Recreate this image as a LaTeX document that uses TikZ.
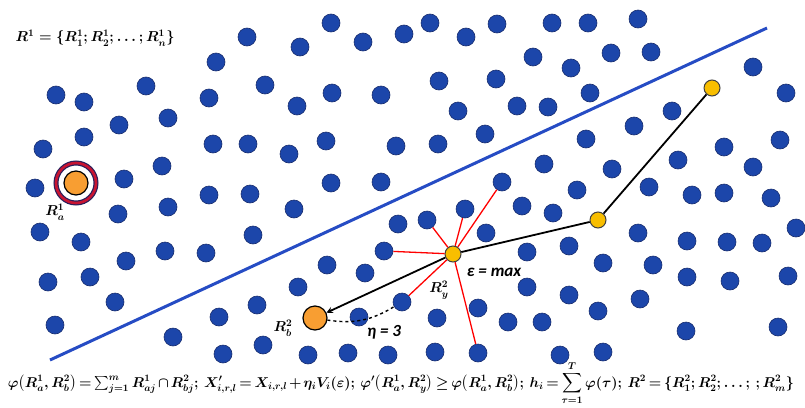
\documentclass[tikz,border=0pt]{standalone}
\usepackage{amsmath,amssymb}
\usepackage{graphicx}
\usepackage{fontspec}
\newfontfamily\calib{Carlito}
\usetikzlibrary{arrows,positioning}
\definecolor{dotblue}{RGB}{28,70,170}
\definecolor{dotedge}{RGB}{25,45,110}
\definecolor{lineblue}{RGB}{38,76,196}
\definecolor{goldfill}{RGB}{248,190,0}
\definecolor{orangefill}{RGB}{248,158,50}
\definecolor{ringred}{RGB}{200,20,50}
\definecolor{ringnavy}{RGB}{40,30,90}

\begin{document}
\begin{tikzpicture}[x=1pt,y=-1pt,>=stealth,
    dot/.style={circle,fill=dotblue,draw=dotedge,line width=0.6pt,minimum size=18pt,inner sep=0pt},
    gold/.style={circle,fill=goldfill,draw=darkgray,line width=1pt,minimum size=16pt,inner sep=0pt},
    orng/.style={circle,fill=orangefill,draw=black,line width=1.2pt,minimum size=24pt,inner sep=0pt},
    lbl/.style={font=\fontsize{14}{16}\selectfont\boldmath},
    ctext/.style={font=\fontsize{17}{20}\selectfont\calib\bfseries\itshape}]
    \useasboundingbox (0,0) rectangle (805,407);
    % Separator
    \draw[lineblue,line width=3pt] (50,360) -- (767,28);
    % Points of R^1
    \foreach \x/\y in {247/37,216/62,265/85,146/86,209/98,56/95,84/102,168/118,119/125,84/137,
        43/149,213/144,248/144,162/166,124/179,35/188,209/195,250/194,168/207,118/214,
        40/232,81/242,126/261,165/251,206/253,253/235,48/282,90/277,115/302,55/325,
        331/23,300/47,363/42,404/34,430/23,466/37,497/24,533/57,332/93,297/106,
        381/95,439/81,496/79,458/111,517/106,289/154,326/141,396/146,438/144,485/134,
        331/183,381/182,294/209,552/23,588/23,638/19,571/68,611/53,651/52,590/93,548/107}
        \node[dot] at (\x,\y) {};
    % Points of R^2
    \foreach \x/\y in {173/337,219/317,257/305,223/354,263/345,398/224,486/233,327/265,365/273,298/287,
        437/318,478/308,508/322,359/317,308/355,348/353,388/355,435/352,527/252,527/287,522/206,
        672/111,634/126,586/139,544/164,612/169,678/160,724/147,780/140,753/167,753/67,786/93,
        577/190,649/187,692/195,724/193,771/198,553/213,638/233,569/246,687/241,727/242,762/243,
        796/228,603/263,653/265,687/277,730/281,788/276,569/295,598/311,640/299,542/322,686/331,
        778/327,560/355,603/352}
        \node[dot] at (\x,\y) {};
    % Neighbours of R_y^2
    \foreach \x/\y [count=\i] in {384/251,427/220,465/209,502/182,402/302,478/353}
        \node[dot] (n\i) at (\x,\y) {};
    % Special points
    \node[orng] (Ra) at (76,183) {};
    \draw[ringnavy,line width=5pt] (Ra.center) circle (20);
    \draw[ringred,line width=2.6pt] (Ra.center) circle (20);
    \node[orng] (Rb) at (315,318) {};
    \node[gold] (Ry) at (453,254) {};
    \node[gold] (g1) at (598,220) {};
    \node[gold] (g2) at (712,88) {};
    % Search paths
    \foreach \i in {1,...,6}
        \draw[red,line width=1.3pt] (Ry) -- (n\i);
    \draw[->,line width=1.8pt] (Ry) -- (Rb);
    \draw[line width=1.8pt] (Ry) -- (g1) -- (g2);
    \draw[dashed,line width=1.4pt] (Rb) to[bend right=20] (n5);
    % Labels
    \node[lbl] (la) at (55,212) {$R^1_a$};
    \node[lbl] (lb) at (283,328) {$R^2_b$};
    \node[lbl] (ly) at (439,290) {$R^2_y$};
    \node[ctext] (eps) at (494,272) {ε = max};
    \node[ctext] (eta) at (384,332) {η = 3};
    \node[lbl,anchor=west] (set1) at (12,38) {$R^1 = \{R^1_1; R^1_2; \dots; R^1_n\}$};
    \node[font=\fontsize{14}{16}\selectfont\boldmath,anchor=base,inner sep=0pt] (eqs) at (401,387)
        {\resizebox{786pt}{!}{\medmuskip=2mu\thickmuskip=3mu$\varphi\big(R^1_a, R^2_b\big) = \sum_{j=1}^{m} R^1_{aj} \cap R^2_{bj};\; X'_{i,r,l} = X_{i,r,l} + \eta_i V_i(\varepsilon);\; \varphi'\big(R^1_a, R^2_y\big) \ge \varphi\big(R^1_a, R^2_b\big);\; h_i = \displaystyle\sum_{\tau=1}^{T} \varphi(\tau);\; R^2 = \{R^2_1; R^2_2; \dots;\,; R^2_m\}$}};
\end{tikzpicture}
\end{document}
